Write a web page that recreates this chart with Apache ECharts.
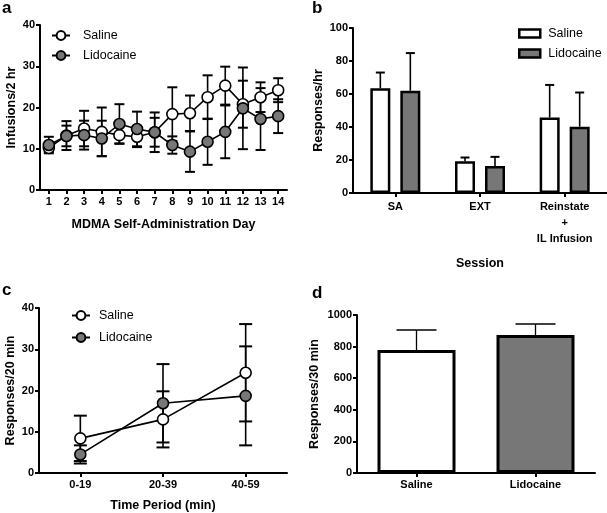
<!DOCTYPE html>
<html><head><meta charset="utf-8">
<script src="https://cdn.jsdelivr.net/npm/echarts@6/dist/echarts.min.js"></script>
<style>html,body{margin:0;padding:0;background:#fff}#c{width:607px;height:513px}</style>
</head><body><div id="c"></div>
<script>
// Panel a
const daysA = ['1','2','3','4','5','6','7','8','9','10','11','12','13','14'];
const salineA = [10.2,13.2,14.9,14.1,13.3,12.9,14.0,18.4,18.6,22.5,25.3,20.8,22.5,24.2];
const salineSemA = [1.0,3.5,4.3,5.9,2.0,2.5,3.5,6.5,4.3,5.3,4.6,5.7,3.6,2.9];
const lidoA = [10.9,13.1,13.3,12.5,16.0,14.8,14.0,10.9,9.3,11.7,14.1,19.8,17.2,17.9];
const lidoSemA = [2.0,2.5,3.5,4.3,4.8,4.2,4.8,2.1,4.9,5.6,6.4,9.9,7.5,4.1];
// Panel b
const sessionsB = ['SA','EXT','Reinstate\n+\nIL Infusion'];
const salineB = [63.5,19.3,45.8];
const salineErrB = [9.5,2.2,19.7];
const lidoB = [62.0,16.4,40.2];
const lidoErrB = [22.8,5.5,20.7];
// Panel c
const periodsC = ['0-19','20-39','40-59'];
const salineC = [8.4,13.0,24.3];
const salineSemC = [5.5,6.8,11.8];
const lidoC = [4.5,16.9,18.7];
const lidoSemC = [2.2,9.5,12.0];
// Panel d
const groupsD = ['Saline','Lidocaine'];
const valuesD = [778,873];
const errD = [127,70];

const FONT = 'Liberation Sans, Arial, sans-serif';
const GRAY = '#777777';

function errData(vals, errs){ return vals.map((v,i)=>[i, v, errs[i]]); }
function errRender(offset, oneSided, cap, lw){
  return function(params, api){
    const x = api.value(0), y = api.value(1), e = api.value(2);
    const t = api.coord([x, y+e]);
    const b = api.coord([x, oneSided ? y : y-e]);
    const cx = t[0] + offset;
    const st = {stroke:'#000', lineWidth:lw};
    const ch = [
      {type:'line', shape:{x1:cx,y1:t[1],x2:cx,y2:b[1]}, style:st},
      {type:'line', shape:{x1:cx-cap,y1:t[1],x2:cx+cap,y2:t[1]}, style:Object.assign({}, st, {lineWidth:lw+0.4})}
    ];
    if(!oneSided) ch.push({type:'line', shape:{x1:cx-cap,y1:b[1],x2:cx+cap,y2:b[1]}, style:Object.assign({}, st, {lineWidth:lw+0.4})});
    return {type:'group', children:ch};
  };
}

const axisLine = {show:true, lineStyle:{color:'#000', width:2}};
const axisTick = {show:true, length:4, lineStyle:{color:'#000', width:2}};
const lblStyle = {color:'#000', fontFamily:FONT, fontWeight:'bold', fontSize:11};
const nameStyle = {color:'#000', fontFamily:FONT, fontWeight:'bold', fontSize:12.5};

function catAxis(idx, data, name, nameGap, extra){
  return Object.assign({type:'category', gridIndex:idx, data:data, boundaryGap:true,
    axisLine:axisLine, axisTick:Object.assign({alignWithLabel:true}, axisTick),
    axisLabel:Object.assign({margin:6, interval:0}, lblStyle), splitLine:{show:false},
    name:name, nameLocation:'middle', nameGap:nameGap, nameTextStyle:nameStyle}, extra||{});
}
function valAxis(idx, max, interval, name, nameGap){
  return {type:'value', gridIndex:idx, min:0, max:max, interval:interval,
    axisLine:axisLine, axisTick:axisTick,
    axisLabel:Object.assign({margin:5, formatter:function(v){return String(v);}}, lblStyle),
    splitLine:{show:false}, name:name, nameLocation:'middle', nameGap:nameGap, nameTextStyle:nameStyle};
}
function lineSeries(name, xi, data, fill, z){
  return {type:'line', name:name, xAxisIndex:xi, yAxisIndex:xi, data:data, symbol:'circle', symbolSize:11,
    lineStyle:{color:'#000', width:1.6}, itemStyle:{color:fill, borderColor:'#000', borderWidth:1.6},
    z:z, animation:false};
}
function errSeries(xi, vals, errs, offset, oneSided, cap, lw){
  return {type:'custom', xAxisIndex:xi, yAxisIndex:xi, data:errData(vals, errs),
    renderItem:errRender(offset, oneSided, cap, lw||1.6), encode:{x:0,y:1}, z:1, silent:true, animation:false};
}
const legText = function(pad){ return {color:'#000', fontSize:12.5, fontFamily:FONT, padding:[0,0,0,pad]}; };

const option = {
  animation:false,
  textStyle:{fontFamily:FONT},
  grid:[
    {left:40, top:25, width:247, height:165},
    {left:353, top:28, width:254, height:165},
    {left:39, top:308, width:248, height:165},
    {left:357, top:315, width:238, height:158}
  ],
  xAxis:[
    catAxis(0, daysA, 'MDMA Self-Administration Day', 28),
    catAxis(1, sessionsB, 'Session', 64, {axisLabel:Object.assign({margin:6, interval:0, lineHeight:16}, lblStyle)}),
    catAxis(2, periodsC, 'Time Period (min)', 26),
    catAxis(3, groupsD, '', 20)
  ],
  yAxis:[
    valAxis(0, 40, 10, 'Infusions/2 hr', 22),
    valAxis(1, 100, 20, 'Responses/hr', 28),
    valAxis(2, 40, 10, 'Responses/20 min', 22),
    valAxis(3, 1000, 200, 'Responses/30 min', 36)
  ],
  legend:[
    {left:51, top:29, padding:0, orient:'vertical', itemGap:7, itemWidth:18, itemHeight:11,
      data:['Saline','Lidocaine'], textStyle:legText(8), selectedMode:false},
    {left:518, top:27, padding:0, orient:'vertical', itemGap:7, itemWidth:21, itemHeight:8, icon:'rect',
      data:[{name:'Saline', itemStyle:{color:'#fff', borderColor:'#000', borderWidth:2.5}},
            {name:'Lidocaine', itemStyle:{color:GRAY, borderColor:'#000', borderWidth:2.5}}],
      textStyle:legText(3), selectedMode:false},
    {left:71, top:309, padding:0, orient:'vertical', itemGap:9, itemWidth:18, itemHeight:11,
      data:['Saline','Lidocaine'], textStyle:legText(4), selectedMode:false}
  ],
  graphic:[
    {type:'text', left:2, top:0, style:{text:'a', font:'bold 17px '+FONT, fill:'#000'}},
    {type:'text', left:312, top:0, style:{text:'b', font:'bold 17px '+FONT, fill:'#000'}},
    {type:'text', left:2, top:282, style:{text:'c', font:'bold 17px '+FONT, fill:'#000'}},
    {type:'text', left:312, top:285, style:{text:'d', font:'bold 17px '+FONT, fill:'#000'}}
  ],
  series:[
    // a
    errSeries(0, salineA, salineSemA, 0, false, 5),
    errSeries(0, lidoA, lidoSemA, 0, false, 5),
    lineSeries('Saline', 0, salineA, '#fff', 3),
    lineSeries('Lidocaine', 0, lidoA, GRAY, 4),
    // b
    {type:'bar', name:'Saline', xAxisIndex:1, yAxisIndex:1, data:salineB, barWidth:20, barGap:'50%',
      itemStyle:{color:'#fff', borderColor:'#000', borderWidth:2.5}, z:2},
    {type:'bar', name:'Lidocaine', xAxisIndex:1, yAxisIndex:1, data:lidoB, barWidth:20, barGap:'50%',
      itemStyle:{color:GRAY, borderColor:'#000', borderWidth:2.5}, z:2},
    errSeries(1, salineB, salineErrB, -15, true, 4.5),
    errSeries(1, lidoB, lidoErrB, 15, true, 4.5),
    // c
    errSeries(2, salineC, salineSemC, 0, false, 6.5),
    errSeries(2, lidoC, lidoSemC, 0, false, 6.5),
    lineSeries('Saline', 2, salineC, '#fff', 3),
    lineSeries('Lidocaine', 2, lidoC, GRAY, 4),
    // d
    {type:'bar', xAxisIndex:3, yAxisIndex:3, barWidth:78,
      data:valuesD.map((v,i)=>({value:v, itemStyle:{color: i===0?'#fff':GRAY}})),
      itemStyle:{borderColor:'#000', borderWidth:3}, z:2},
    errSeries(3, valuesD, errD, 0, true, 20, 1.3)
  ]
};
const chart = echarts.init(document.getElementById('c'), null, {renderer:'canvas'});
chart.setOption(option);
</script></body></html>
